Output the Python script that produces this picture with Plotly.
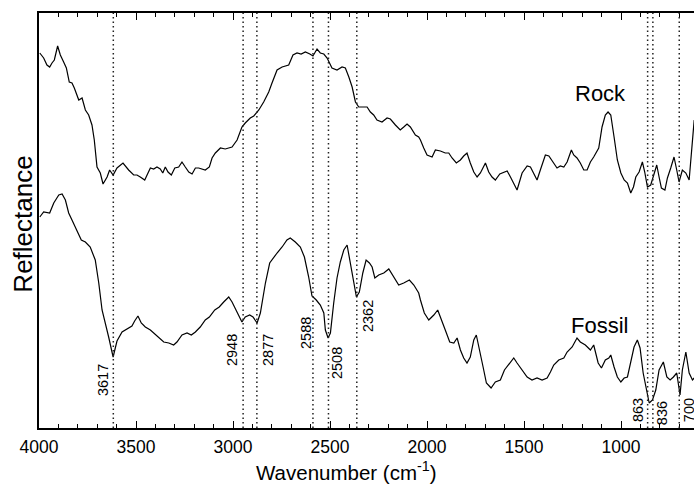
import plotly.graph_objects as go

# Rock spectrum (wavenumber cm^-1, reflectance a.u.)
rock_wn = [3996, 3976, 3959, 3945, 3933, 3921, 3904, 3890, 3873, 3859, 3844, 3830, 3818, 3795, 3778,
           3761, 3744, 3727, 3715, 3701, 3684, 3670, 3649, 3636, 3618, 3598, 3567, 3538, 3512, 3495,
           3478, 3455, 3443, 3426, 3409, 3392, 3375, 3362, 3349, 3335, 3318, 3300, 3280, 3263, 3246,
           3228, 3211, 3194, 3177, 3160, 3143, 3122, 3108, 3091, 3065, 3040, 3022, 3005, 2979, 2954,
           2937, 2911, 2893, 2867, 2842, 2816, 2799, 2773, 2747, 2713, 2691, 2670, 2649, 2627, 2604,
           2588, 2567, 2550, 2532, 2515, 2490, 2464, 2438, 2421, 2403, 2386, 2369, 2352, 2326, 2309,
           2292, 2275, 2258, 2232, 2206, 2189, 2163, 2138, 2120, 2103, 2086, 2060, 2043, 2034, 2017,
           2000, 1974, 1957, 1931, 1906, 1888, 1871, 1849, 1828, 1811, 1794, 1777, 1759, 1742, 1725,
           1699, 1682, 1665, 1648, 1625, 1604, 1587, 1570, 1553, 1536, 1510, 1484, 1467, 1450, 1433,
           1416, 1390, 1372, 1347, 1330, 1313, 1295, 1278, 1256, 1244, 1227, 1210, 1192, 1175, 1158,
           1141, 1115, 1098, 1081, 1067, 1053, 1036, 1019, 1001, 984, 967, 950, 936, 924, 907,
           890, 878, 864, 847, 830, 816, 804, 792, 774, 761, 744, 727, 713, 701, 684,
           666, 649, 632, 623]
rock_r = [375, 370, 363, 361, 365, 368, 382, 373, 366, 360, 346, 345, 340, 328, 330,
          318, 313, 303, 288, 261, 255, 244, 251, 258, 253, 260, 265, 258, 253, 253,
          251, 248, 253, 260, 259, 261, 259, 255, 261, 256, 253, 260, 261, 266, 261,
          256, 254, 260, 260, 259, 258, 261, 270, 275, 280, 279, 280, 281, 288, 301,
          305, 310, 312, 318, 326, 336, 345, 358, 361, 363, 373, 375, 374, 376, 374,
          372, 379, 375, 374, 370, 360, 358, 361, 360, 351, 341, 326, 321, 321, 321,
          316, 313, 308, 306, 310, 309, 303, 298, 301, 304, 301, 293, 291, 288, 280,
          273, 271, 278, 277, 275, 275, 270, 265, 268, 272, 275, 265, 256, 251, 255,
          265, 256, 251, 248, 254, 256, 257, 251, 245, 238, 255, 262, 261, 255, 248,
          258, 273, 272, 265, 260, 262, 261, 266, 278, 273, 270, 265, 258, 258, 266,
          271, 280, 301, 313, 316, 313, 291, 268, 255, 248, 245, 235, 241, 251, 256,
          266, 256, 241, 243, 255, 263, 251, 240, 238, 250, 260, 271, 258, 246, 258,
          255, 248, 288, 308]

# Fossil spectrum
fossil_wn = [3996, 3976, 3945, 3924, 3898, 3881, 3864, 3847, 3830, 3813, 3795, 3782, 3761, 3736, 3710,
             3692, 3675, 3658, 3641, 3618, 3598, 3572, 3546, 3521, 3507, 3490, 3473, 3452, 3426, 3409,
             3383, 3357, 3331, 3306, 3289, 3263, 3237, 3215, 3194, 3169, 3143, 3122, 3094, 3071, 3048,
             3022, 3005, 2979, 2954, 2937, 2914, 2897, 2876, 2859, 2833, 2811, 2790, 2773, 2747, 2722,
             2705, 2679, 2653, 2632, 2610, 2593, 2571, 2550, 2532, 2524, 2510, 2498, 2481, 2464, 2447,
             2429, 2412, 2395, 2378, 2364, 2349, 2331, 2314, 2297, 2283, 2269, 2249, 2223, 2197, 2172,
             2146, 2120, 2091, 2068, 2043, 2034, 2014, 1991, 1965, 1945, 1928, 1906, 1883, 1862, 1845,
             1828, 1811, 1794, 1777, 1759, 1746, 1728, 1711, 1694, 1670, 1648, 1622, 1601, 1579, 1553,
             1536, 1510, 1484, 1459, 1433, 1407, 1381, 1364, 1347, 1321, 1295, 1278, 1252, 1227, 1210,
             1184, 1158, 1141, 1118, 1101, 1081, 1063, 1053, 1036, 1019, 1001, 984, 967, 950, 933,
             916, 902, 886, 867, 855, 838, 821, 804, 782, 764, 747, 730, 713, 696, 684,
             666, 649, 632, 623]
fossil_r = [211, 216, 215, 225, 233, 234, 228, 215, 208, 201, 195, 188, 186, 181, 168,
            145, 118, 105, 91, 71, 87, 96, 99, 102, 107, 112, 105, 101, 98, 95,
            90, 86, 85, 83, 86, 93, 95, 93, 96, 101, 108, 111, 118, 121, 126,
            131, 126, 115, 106, 111, 113, 111, 105, 115, 145, 165, 171, 175, 181, 188,
            190, 186, 181, 171, 151, 132, 128, 123, 115, 98, 90, 95, 125, 150, 166,
            178, 183, 165, 145, 131, 136, 155, 168, 165, 161, 150, 153, 155, 159, 151,
            143, 145, 148, 143, 135, 128, 115, 108, 113, 118, 110, 98, 86, 85, 90,
            78, 70, 65, 71, 88, 93, 78, 61, 45, 40, 46, 48, 58, 63, 70,
            65, 58, 51, 48, 50, 48, 50, 56, 63, 68, 70, 76, 81, 90, 86,
            83, 78, 83, 65, 60, 68, 70, 73, 61, 51, 46, 50, 51, 65, 81,
            88, 80, 55, 35, 25, 28, 38, 58, 66, 51, 48, 51, 55, 33, 58,
            76, 55, 48, 50]

peaks = [3617, 2948, 2877, 2588, 2508, 2362, 863, 836, 700]
peak_labels = ["3617", "2948", "2877", "2588", "2508", "2362", "863", "836", "700"]
peak_label_x = [3670, 3005, 2820, 2624, 2464, 2304, 912, 788, 649]
peak_label_y = [48, 78, 78, 95, 65, 112, 18, 15, 18]

x_ticks = [4000, 3500, 3000, 2500, 2000, 1500, 1000]

FONT = "Arial, Liberation Sans, sans-serif"

fig = go.Figure()
fig.add_trace(go.Scatter(x=rock_wn, y=rock_r, mode="lines",
                         line=dict(color="black", width=1.2), name="Rock"))
fig.add_trace(go.Scatter(x=fossil_wn, y=fossil_r, mode="lines",
                         line=dict(color="black", width=1.2), name="Fossil"))

for p in peaks:
    fig.add_shape(type="line", xref="x", yref="paper", x0=p, x1=p, y0=0, y1=1,
                  line=dict(color="#222", width=1.5, dash="1.5px,3px"))

for lx, ly, t in zip(peak_label_x, peak_label_y, peak_labels):
    fig.add_annotation(x=lx, y=ly, text=t, textangle=-90, showarrow=False,
                       xanchor="center", yanchor="middle",
                       font=dict(family=FONT, size=14.5, color="black"))

fig.add_annotation(x=1108, y=335, text="Rock", showarrow=False,
                   xanchor="center", yanchor="middle",
                   font=dict(family=FONT, size=22, color="black"))
fig.add_annotation(x=1110, y=103, text="Fossil", showarrow=False,
                   xanchor="center", yanchor="middle",
                   font=dict(family=FONT, size=22, color="black"))

# axis titles
fig.add_annotation(xref="paper", yref="paper", x=0, y=0.49, xshift=-16,
                   text="Reflectance", textangle=-90, showarrow=False,
                   xanchor="center", yanchor="middle",
                   font=dict(family=FONT, size=26, color="black"))
fig.add_annotation(xref="paper", yref="paper", x=0.469, y=-0.104,
                   text="Wavenumber (cm<sup>-1</sup>)", showarrow=False,
                   xanchor="center", yanchor="middle",
                   font=dict(family=FONT, size=20.5, color="black"))

fig.update_layout(
    width=694, height=492,
    margin=dict(l=39, r=0, t=13, b=64, autoexpand=False),
    paper_bgcolor="white", plot_bgcolor="white",
    showlegend=False,
    font=dict(family=FONT, color="black"),
    xaxis=dict(range=[4000, 624], tickvals=x_ticks, ticks="inside", ticklen=7,
               tickwidth=1, tickcolor="black", showline=True, linecolor="black",
               linewidth=1.5, mirror="ticks", showgrid=False, zeroline=False,
               automargin=False, ticklabelstandoff=2,
               tickfont=dict(size=17.5, family=FONT),
               minor=dict(dtick=100, ticks="inside", ticklen=4, tickcolor="black", showgrid=False)),
    yaxis=dict(range=[0, 415], showticklabels=False, ticks="", showline=True,
               linecolor="black", linewidth=1.5, showgrid=False, zeroline=False,
               automargin=False),
)

fig.write_html("out.html", config={"displayModeBar": False},
               post_script="document.body.style.margin='0';document.body.style.overflow='hidden';")
